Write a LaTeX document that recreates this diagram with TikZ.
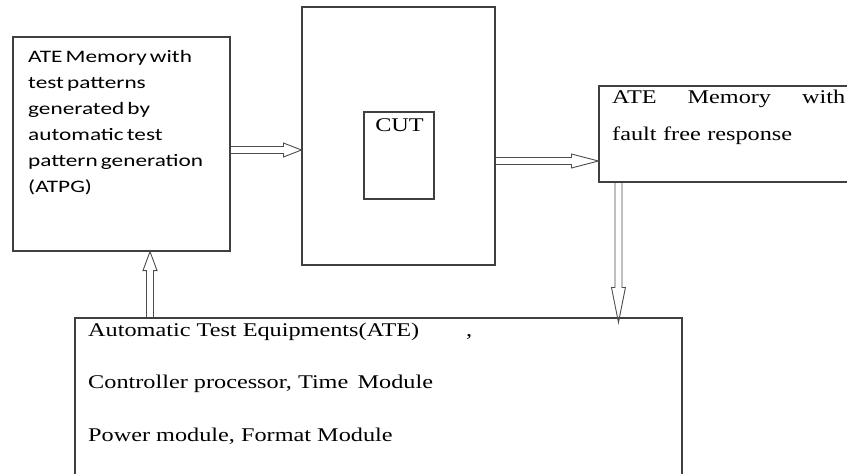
\documentclass[tikz,border=0pt]{standalone}
\usepackage{fontspec}
\setmainfont{Liberation Serif}[FakeStretch=1.25]
\newfontfamily\calibri{Carlito}[FakeStretch=1.33,WordSpace=0.6]
\usetikzlibrary{calc}

\begin{document}
\begin{tikzpicture}[x=1pt, y=-1pt,
  box/.style={draw=black!75, line width=1.1pt, inner sep=0pt},
  dbl/.style={draw=black!70, line width=0.9pt, to path={
    ($(\tikztostart)!3.5pt!90:(\tikztotarget)$)
    -- ($($(\tikztotarget)!#1!(\tikztostart)$)!3.5pt!90:(\tikztotarget)$)
    -- ($($(\tikztotarget)!#1!(\tikztostart)$)!7pt!90:(\tikztotarget)$)
    -- (\tikztotarget)
    -- ($($(\tikztotarget)!#1!(\tikztostart)$)!7pt!-90:(\tikztotarget)$)
    -- ($($(\tikztotarget)!#1!(\tikztostart)$)!3.5pt!-90:(\tikztotarget)$)
    -- ($(\tikztostart)!3.5pt!-90:(\tikztotarget)$)}},
  txt/.style={inner sep=0pt, anchor=base west, align=left}]
\useasboundingbox (0,0) rectangle (847,474);
\clip (0,0) rectangle (847,474);
\node[box, minimum width=217pt, minimum height=214pt] (atpg) at (121.5,144) {};
\node[box, minimum width=193pt, minimum height=258pt] (dut) at (398.5,136) {};
\node[box, minimum width=70pt, minimum height=87pt] (cut) at (399,155.5) {};
\node[box, minimum width=271pt, minimum height=96pt] (resp) at (734.5,134) {};
\node[box, minimum width=607pt, minimum height=182pt] (ate) at (378.5,409) {};

% multi-line texts sit on their last baseline (text width ones on the first)
\node[txt, font=\calibri\fontsize{17.5}{26}\selectfont] (atpgtxt) at (28,192)
  {ATE Memory with\\test patterns\\generated by\\automatic test\\pattern generation\\(ATPG)};
\node[inner sep=0pt, anchor=base, font=\fontsize{19.4}{24}\selectfont] (cuttxt) at (399.5,131.7) {CUT};
\node[txt, text width=233pt, font=\fontsize{19.4}{37}\selectfont] (resptxt) at (612,103)
  {ATE\hfill Memory\hfill with\\fault free response};
\node[txt, font=\fontsize{19.4}{52.5}\selectfont] (atetxt) at (88,441)
  {Automatic Test Equipments(ATE)\\Controller processor, Time\ \,Module\\Power module, Format Module};
\node[txt, font=\fontsize{19.4}{24}\selectfont] (atemark) at (466,336) {,};

\coordinate (up) at ([xshift=28.5pt]atpg.south);
\coordinate (dn) at ([xshift=20pt]resp.south west);
\draw[dbl=18pt] ([yshift=-6pt]atpg.east) to ([yshift=-6pt]atpg.east -| dut.west);
\draw[dbl=27pt] ([yshift=-25pt]dut.east) to ([yshift=-25pt]dut.east -| resp.west);
\draw[dbl=35pt] (dn) to ([yshift=-5pt]dn |- ate.north);
\draw[dbl=19pt] (up |- ate.north) to (up);
\end{tikzpicture}
\end{document}
